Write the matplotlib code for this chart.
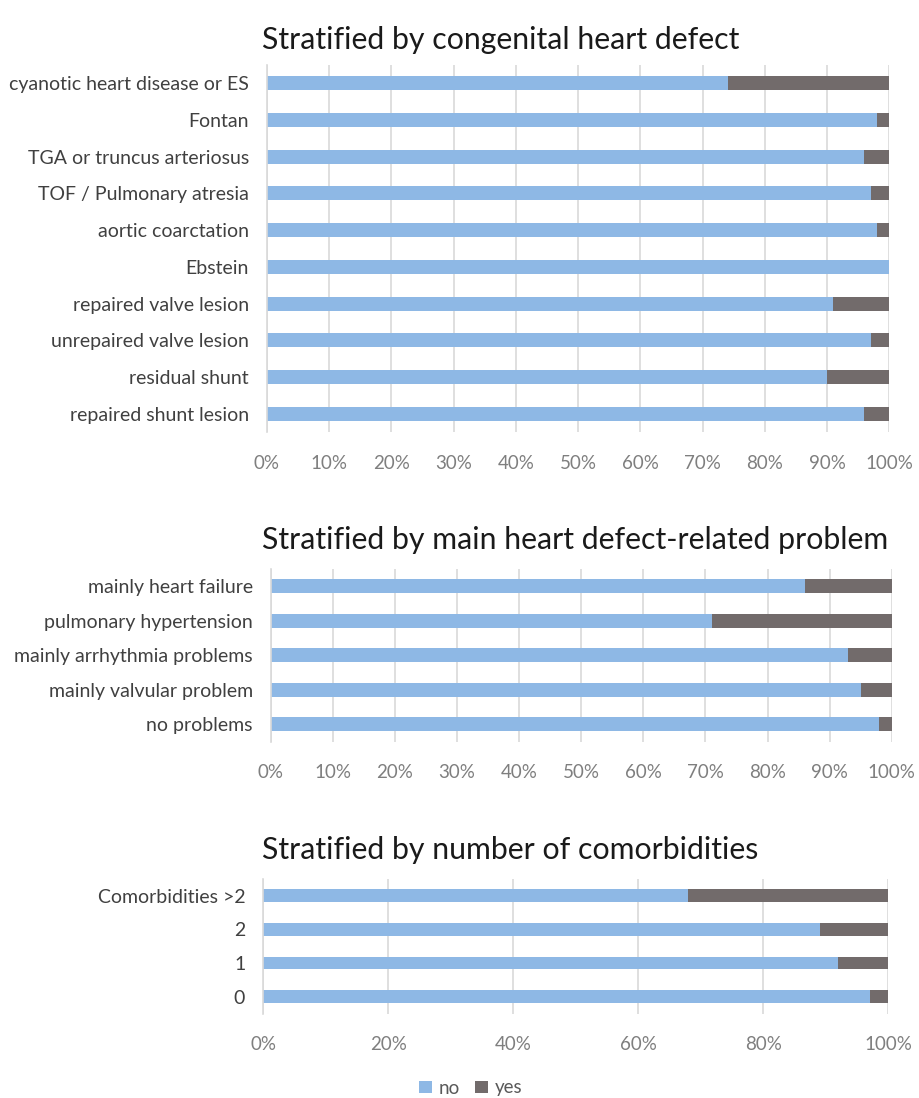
import matplotlib
matplotlib.use("Agg")
import matplotlib.pyplot as plt
import numpy as np
from matplotlib.patches import Patch

plt.rcParams['font.family'] = ['Lato', 'DejaVu Sans']

# ---- data ----
defect_cats = ["cyanotic heart disease or ES", "Fontan", "TGA or truncus arteriosus",
               "TOF / Pulmonary atresia", "aortic coarctation", "Ebstein",
               "repaired valve lesion", "unrepaired valve lesion", "residual shunt",
               "repaired shunt lesion"]
defect_no = [74, 98, 96, 97, 98, 100, 91, 97, 90, 96]

problem_cats = ["mainly heart failure", "pulmonary hypertension",
                "mainly arrhythmia problems", "mainly valvular problem", "no problems"]
problem_no = [86, 71, 93, 95, 98]

comorb_cats = ["Comorbidities >2", "2", "1", "0"]
comorb_no = [68, 89, 92, 97]

titles = ["Stratified by congenital heart defect",
          "Stratified by main heart defect-related problem",
          "Stratified by number of comorbidities"]
ticks_10 = [0, 10, 20, 30, 40, 50, 60, 70, 80, 90, 100]
ticks_20 = [0, 20, 40, 60, 80, 100]

BLUE = "#8EB8E5"
GREY = "#726B6B"
GRID = "#D9D9D9"

W, H = 919, 1098
fig = plt.figure(figsize=(W / 100, H / 100), dpi=100)

def add_ax(left, right, top, bottom):
    return fig.add_axes([left / W, 1 - bottom / H, (right - left) / W, (bottom - top) / H])

panels = [
    (defect_cats, defect_no, ticks_10, (267, 889.3, 64.6, 432.4), 0.38, titles[0], 40),
    (problem_cats, problem_no, ticks_10, (270.7, 891.7, 569, 741.5), 0.41, titles[1], 540),
    (comorb_cats, comorb_no, ticks_20, (263.3, 888.3, 879, 1013.5), 0.38, titles[2], 850),
]

for cats, no, ticks, box, bh, title, ty in panels:
    ax = add_ax(*box)
    no = np.array(no, dtype=float)
    yes = 100 - no
    y = np.arange(len(cats))
    ax.barh(y, no, height=bh, color=BLUE, label="no", zorder=3)
    ax.barh(y, yes, left=no, height=bh, color=GREY, label="yes", zorder=3)
    ax.set_xlim(0, 100)
    ax.set_ylim(len(cats) - 0.5, -0.5)
    ax.set_yticks(y)
    ax.set_yticklabels(cats, fontsize=14, color="#404040")
    ax.set_xticks(ticks)
    ax.set_xticklabels([f"{t}%" for t in ticks], fontsize=13.5, color="#7F7F7F")
    ax.tick_params(axis='both', length=0)
    ax.tick_params(axis='y', pad=13)
    ax.tick_params(axis='x', pad=16)
    ax.grid(axis='x', color=GRID, linewidth=1.2, zorder=0)
    for s in ["top", "right", "bottom"]:
        ax.spines[s].set_visible(False)
    ax.spines["left"].set_color(GRID)
    ax.spines["left"].set_linewidth(1.2)
    ax.spines["left"].set_zorder(4)
    fig.text(262 / W, 1 - ty / H, title, fontsize=21.8, color="#1A1A1A",
             ha='left', va='center')

handles = [Patch(facecolor=BLUE, label="no"), Patch(facecolor=GREY, label="yes")]
fig.legend(handles=handles, loc='center', bbox_to_anchor=(471 / W, 1 - 1088 / H),
           ncol=2, frameon=False, fontsize=13.5, handlelength=0.65, handleheight=0.65,
           handletextpad=0.4, columnspacing=0.8, labelcolor="#595959")

fig.savefig("out.png", dpi=100)
